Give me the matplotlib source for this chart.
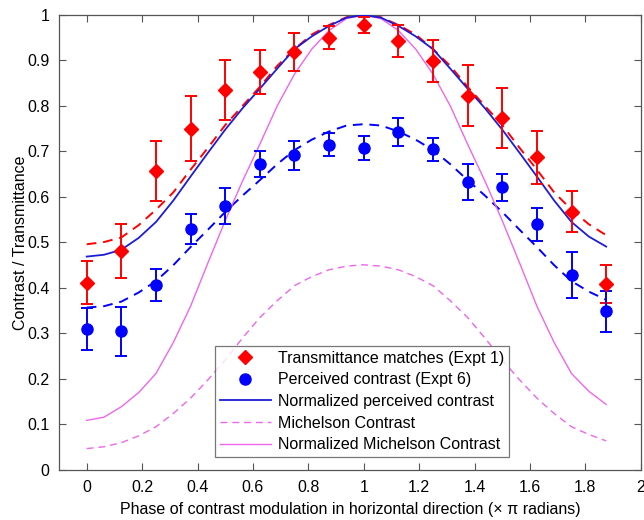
import matplotlib
matplotlib.use("Agg")
import matplotlib.pyplot as plt
from matplotlib.lines import Line2D
import numpy as np

plt.rcParams['font.family'] = ['Liberation Sans', 'DejaVu Sans']

# data points
phase = [0, 0.125, 0.25, 0.375, 0.5, 0.625, 0.75, 0.875, 1.0,
         1.125, 1.25, 1.375, 1.5, 1.625, 1.75, 1.875]
trans = [0.412, 0.481, 0.657, 0.750, 0.835, 0.875, 0.918, 0.950, 0.978,
         0.943, 0.899, 0.822, 0.773, 0.687, 0.568, 0.409]
trans_err = [0.047, 0.059, 0.065, 0.072, 0.066, 0.049, 0.042, 0.025, 0.017,
             0.036, 0.047, 0.067, 0.066, 0.058, 0.046, 0.042]
perc = [0.310, 0.305, 0.407, 0.530, 0.580, 0.673, 0.692, 0.715, 0.708,
        0.742, 0.705, 0.633, 0.621, 0.540, 0.429, 0.349]
perc_err = [0.046, 0.054, 0.035, 0.033, 0.040, 0.028, 0.032, 0.025, 0.027,
            0.031, 0.025, 0.039, 0.029, 0.036, 0.050, 0.045]

# fitted curves, every 1/16 of the phase axis
curve_phase = [0, 0.0625, 0.125, 0.1875, 0.25, 0.3125, 0.375, 0.4375, 0.5,
               0.5625, 0.625, 0.6875, 0.75, 0.8125, 0.875, 0.9375, 1.0,
               1.0625, 1.125, 1.1875, 1.25, 1.3125, 1.375, 1.4375, 1.5,
               1.5625, 1.625, 1.6875, 1.75, 1.8125, 1.875]
fit_trans = [0.496, 0.501, 0.511, 0.538, 0.572, 0.610, 0.660, 0.708, 0.758,
             0.800, 0.842, 0.888, 0.925, 0.957, 0.978, 0.995, 1.000,
             0.995, 0.978, 0.957, 0.925, 0.888, 0.842, 0.800, 0.758,
             0.708, 0.660, 0.610, 0.572, 0.540, 0.516]
norm_perc = [0.469, 0.473, 0.484, 0.510, 0.545, 0.592, 0.645, 0.697, 0.748,
             0.795, 0.838, 0.882, 0.925, 0.953, 0.976, 0.994, 1.000,
             0.994, 0.976, 0.953, 0.925, 0.882, 0.838, 0.795, 0.748,
             0.697, 0.645, 0.592, 0.545, 0.513, 0.491]
fit_perc = [0.357, 0.360, 0.370, 0.390, 0.415, 0.450, 0.490, 0.528, 0.567,
            0.603, 0.637, 0.672, 0.703, 0.726, 0.744, 0.757, 0.760,
            0.757, 0.744, 0.726, 0.703, 0.672, 0.637, 0.603, 0.567,
            0.528, 0.490, 0.450, 0.415, 0.392, 0.374]
michelson = [0.047, 0.051, 0.060, 0.075, 0.095, 0.124, 0.158, 0.198, 0.242,
             0.290, 0.335, 0.372, 0.405, 0.425, 0.440, 0.448, 0.451,
             0.448, 0.440, 0.425, 0.405, 0.372, 0.335, 0.290, 0.242,
             0.198, 0.158, 0.124, 0.095, 0.078, 0.064]
norm_michelson = [0.109, 0.116, 0.139, 0.170, 0.212, 0.280, 0.360, 0.455, 0.548,
                  0.635, 0.716, 0.800, 0.870, 0.925, 0.966, 0.992, 1.000,
                  0.992, 0.966, 0.925, 0.870, 0.800, 0.716, 0.635, 0.548,
                  0.455, 0.360, 0.280, 0.212, 0.173, 0.144]

xticks = [0, 0.2, 0.4, 0.6, 0.8, 1, 1.2, 1.4, 1.6, 1.8, 2]
xticklabels = ['0', '0.2', '0.4', '0.6', '0.8', '1', '1.2', '1.4', '1.6', '1.8', '2']
yticks = [0, 0.1, 0.2, 0.3, 0.4, 0.5, 0.6, 0.7, 0.8, 0.9, 1]
yticklabels = ['0', '0.1', '0.2', '0.3', '0.4', '0.5', '0.6', '0.7', '0.8', '0.9', '1']

labels = ['Transmittance matches (Expt 1)', 'Perceived contrast (Expt 6)',
          'Normalized perceived contrast', 'Michelson Contrast',
          'Normalized Michelson Contrast']

RED = '#ff0000'
BLUE = '#0000ff'
LBLUE = '#1c1cd8'
MAG = '#ee66ee'
DASH = (5, 3.5)

fig = plt.figure(figsize=(6.44, 5.2), dpi=100)
ax = fig.add_axes([0.0916, 0.0962, 0.9034, 0.875])

ax.plot(curve_phase, fit_trans, color=RED, lw=1.4, dashes=DASH, zorder=2)
ax.plot(curve_phase, fit_perc, color=BLUE, lw=1.4, dashes=DASH, zorder=2)

ax.errorbar(phase, trans, yerr=trans_err, fmt='D', color=RED, ms=7.5,
            capsize=4, elinewidth=1.4, capthick=1.4, zorder=4)
ax.errorbar(phase, perc, yerr=perc_err, fmt='o', color=BLUE, ms=8,
            capsize=4, elinewidth=1.4, capthick=1.4, zorder=4)

ax.plot(curve_phase, norm_perc, color=LBLUE, lw=1.3, zorder=3)
ax.plot(curve_phase, michelson, color=MAG, lw=1.0, dashes=DASH, zorder=2)
ax.plot(curve_phase, norm_michelson, color=MAG, lw=1.0, zorder=2)

ax.set_xlim(-0.1, 2.0)
ax.set_ylim(0, 1)
ax.set_xticks(xticks)
ax.set_xticklabels(xticklabels)
ax.set_yticks(yticks)
ax.set_yticklabels(yticklabels)
ax.tick_params(direction='in', length=5, width=0.8, color='#555555',
               labelsize=11.5, top=True, right=True, pad=7)
for s in ax.spines.values():
    s.set_color('#555555')
    s.set_linewidth(0.9)

ax.set_xlabel('Phase of contrast modulation in horizontal direction (\u00d7 \u03c0 radians)',
              fontsize=11.5, labelpad=5)
ax.set_ylabel('Contrast / Transmittance', fontsize=11.5, labelpad=-1)

handles = [
    Line2D([], [], ls='none', marker='D', color=RED, ms=7.5),
    Line2D([], [], ls='none', marker='o', color=BLUE, ms=8),
    Line2D([], [], color=LBLUE, lw=1.3),
    Line2D([], [], color=MAG, lw=1.0, dashes=DASH),
    Line2D([], [], color=MAG, lw=1.0),
]
leg = ax.legend(handles, labels, loc='lower left', bbox_to_anchor=(0.268, 0.028),
                fontsize=11.5, frameon=True, fancybox=False, edgecolor='#555555',
                borderpad=0.3, labelspacing=0.42, handlelength=3.2,
                handletextpad=0.45, borderaxespad=0)
leg.get_frame().set_linewidth(0.9)

fig.savefig('out.png', dpi=100)
